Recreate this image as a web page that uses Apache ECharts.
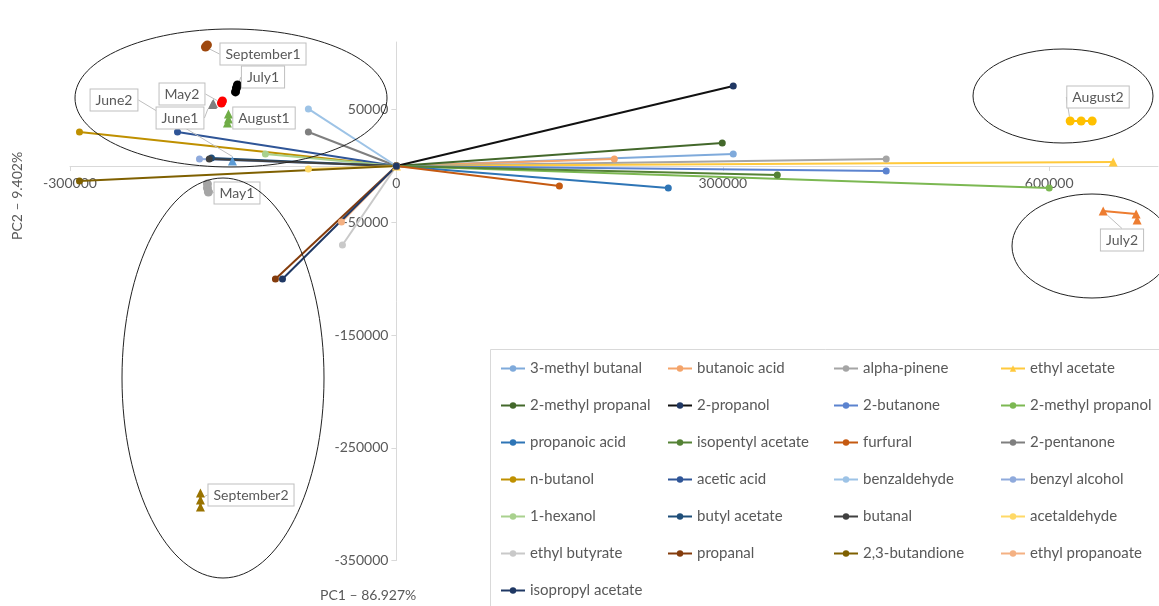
<!DOCTYPE html>
<html>
<head>
<meta charset="utf-8">
<script src="https://cdn.jsdelivr.net/npm/echarts@6/dist/echarts.min.js"></script>
<style>
html,body{margin:0;padding:0;background:#fff;}
#chart{width:1159px;height:606px;}
</style>
</head>
<body>
<div id="chart"></div>
<script>
// ---- Loadings (variables): line from origin to (x, y)
const loadingNames = ['3-methyl butanal','butanoic acid','alpha-pinene','ethyl acetate',
  '2-methyl propanal','2-propanol','2-butanone','2-methyl propanol',
  'propanoic acid','isopentyl acetate','furfural','2-pentanone',
  'n-butanol','acetic acid','benzaldehyde','benzyl alcohol',
  '1-hexanol','butyl acetate','butanal','acetaldehyde',
  'ethyl butyrate','propanal','2,3-butandione','ethyl propanoate',
  'isopropyl acetate'];
const loadingX = [309600, 200300, 450200, 658800,
  299500, 309600, 450200, 600000,
  249900, 350100, 149800, -80900,
  -291300, -201200, -80900, -181000,
  -120400, -170000, -172000, -80900,
  -49600, -111200, -291300, -50500,
  -104700];
const loadingY = [10600, 6200, 6200, 3500,
  20400, 71000, -4400, -19500,
  -19500, -8000, -17700, 30200,
  30200, 30200, 50600, 6200,
  10600, 7100, 6200, -2700,
  -70100, -100300, -13300, -49700,
  -100300];
const loadingColors = ['#7FAADB','#F4A46A','#A5A5A5','#FFC93C',
  '#43682B','#203864','#5B83CF','#7CB852',
  '#2E75B6','#548235','#C55A11','#7F7F7F',
  '#BF9000','#2F5597','#9DC3E6','#8FAADC',
  '#A9D18E','#1F4E79','#404040','#FFD966',
  '#C9C9C9','#843C0C','#7F6000','#F4B183',
  '#1F3864'];

// ---- Scores (samples)
const sampleNames = ['September1','July1','May2','June1','June2','August1','May1','September2','August2','July2'];
const sampleX = [
  [-175500,-173700,-174600],
  [-147900,-147000,-146100],
  [-160800,-159900],
  [-169100,-168200],
  [-150700],
  [-154400,-154400,-155300],
  [-173700,-173700,-172800],
  [-180100,-180100,-180100],
  [619300,629400,639500],
  [649600,679900,680800]
];
const sampleY = [
  [105600,107400,106500],
  [65700,69200,71900],
  [55900,57700],
  [54600,55400],
  [4400],
  [46100,41700,38200],
  [-16000,-19500,-23100],
  [-290100,-296400,-302600],
  [39900,39900,39900],
  [-39900,-42600,-47900]
];
const sampleColors = ['#9E480E','#000000','#FF0000','#7F7F7F','#5B9BD5','#70AD47','#A5A5A5','#997300','#FFC000','#ED7D31'];
const sampleSymbols = ['circle','circle','circle','triangle','triangle','triangle','circle','triangle','circle','triangle'];
// label box centres (pixels)
const labelPos = [[263,54],[263,77],[182,94],[180,118],[114,100],[264,118],[237,193],[251,495],[1098,97],[1122,240]];

const xTicks = {min:-300000, max:700000, interval:300000};
const yTicks = {min:-350000, max:110000, interval:100000};

const FONT = 'Lato, "Open Sans", sans-serif';
const TXT = '#595959';

const GRID = {left: 70, top: 42, width: 1088, height: 518.5};
// pixel offsets that put each axis through the other axis' zero
const xZeroPx = GRID.width * (0 - xTicks.min) / (xTicks.max - xTicks.min);
const yZeroPx = GRID.height * (yTicks.max - 0) / (yTicks.max - yTicks.min);

const series = [];
loadingNames.forEach((n, i) => {
  series.push({
    name: n, type: 'line',
    data: [[0,0],[loadingX[i], loadingY[i]]],
    symbol: n === 'ethyl acetate' ? 'triangle' : 'circle',
    symbolSize: n === 'ethyl acetate' ? 9 : 7,
    lineStyle: {width: 2, color: n === '2-propanol' ? '#111111' : loadingColors[i]},
    itemStyle: {color: loadingColors[i]},
    emphasis: {disabled: true},
    z: 2
  });
});
sampleNames.forEach((n, i) => {
  const pts = sampleX[i].map((x, k) => {
    const item = {value: [x, sampleY[i][k]]};
    if (k === 0) item.label = {show: true};
    return item;
  });
  series.push({
    name: n, type: 'line',
    data: pts,
    symbol: sampleSymbols[i], symbolSize: 9,
    lineStyle: {width: 2, color: sampleColors[i]},
    itemStyle: {color: sampleColors[i]},
    label: {show: false, formatter: n, color: TXT, fontSize: 14, fontFamily: FONT,
      backgroundColor: '#fff', borderColor: '#bfbfbf', borderWidth: 1, padding: [4,5,3,5]},
    labelLine: {show: true, lineStyle: {color: '#bfbfbf', width: 1}},
    labelLayout: function () {
      return {x: labelPos[i][0], y: labelPos[i][1], align: 'center', verticalAlign: 'middle'};
    },
    emphasis: {disabled: true},
    z: 3
  });
});

// Legend: 4 columns
const colLeft = [500, 667, 833, 1000];
const legends = colLeft.map((l, c) => ({
  orient: 'vertical', left: l, top: 361, height: 320, padding: 0,
  data: loadingNames.filter((_, i) => i % 4 === c),
  itemWidth: 24, itemHeight: 8, itemGap: 22,
  textStyle: {color: TXT, fontSize: 15, fontFamily: FONT, lineHeight: 15},
  selectedMode: false
}));

const fmt = v => String(v);

const chart = echarts.init(document.getElementById('chart'), null, {renderer: 'canvas'});
chart.setOption({
  animation: false,
  backgroundColor: '#fff',
  grid: Object.assign({containLabel: false}, GRID),
  xAxis: {
    type: 'value', min: xTicks.min, max: xTicks.max, interval: xTicks.interval,
    position: 'bottom', offset: -(GRID.height - yZeroPx),
    axisLine: {onZero: false, lineStyle: {color: '#d9d9d9'}},
    axisTick: {show: true, length: 5, lineStyle: {color: '#d9d9d9'}},
    axisLabel: {color: TXT, fontSize: 14, fontFamily: FONT, showMaxLabel: false, margin: 10, formatter: fmt},
    splitLine: {show: false}
  },
  yAxis: {
    type: 'value', min: yTicks.min, max: yTicks.max, interval: yTicks.interval,
    position: 'left', offset: -xZeroPx,
    axisLine: {show: true, onZero: false, lineStyle: {color: '#d9d9d9'}},
    axisTick: {show: true, length: 5, lineStyle: {color: '#d9d9d9'}},
    axisLabel: {color: TXT, fontSize: 14, fontFamily: FONT, showMaxLabel: false, margin: 8, formatter: fmt},
    splitLine: {show: false}
  },
  legend: legends,
  series: series,
  graphic: [
    {type: 'rect', shape: {x: 490.5, y: 349.5, width: 700, height: 300},
     style: {fill: '#fff', stroke: '#d9d9d9', lineWidth: 1}, z: 0, silent: true},
    {type: 'ellipse', shape: {cx: 231, cy: 98, rx: 156, ry: 69},
     style: {fill: 'none', stroke: '#222', lineWidth: 1}, z: 100, silent: true},
    {type: 'ellipse', shape: {cx: 1063, cy: 96, rx: 90, ry: 47},
     style: {fill: 'none', stroke: '#222', lineWidth: 1}, z: 100, silent: true},
    {type: 'ellipse', shape: {cx: 1092, cy: 246, rx: 80, ry: 52},
     style: {fill: 'none', stroke: '#222', lineWidth: 1}, z: 100, silent: true},
    {type: 'ellipse', shape: {cx: 223, cy: 378, rx: 101, ry: 200},
     style: {fill: 'none', stroke: '#222', lineWidth: 1}, z: 100, silent: true},
    {type: 'text', left: 320, top: 588,
     style: {text: 'PC1 – 86.927%', fill: TXT, font: '14px ' + FONT}, z: 100},
    {type: 'text', x: 10, y: 240, rotation: Math.PI / 2,
     style: {text: 'PC2 – 9.402%', fill: TXT, font: '14px ' + FONT}, z: 100}
  ]
});
</script>
</body>
</html>
